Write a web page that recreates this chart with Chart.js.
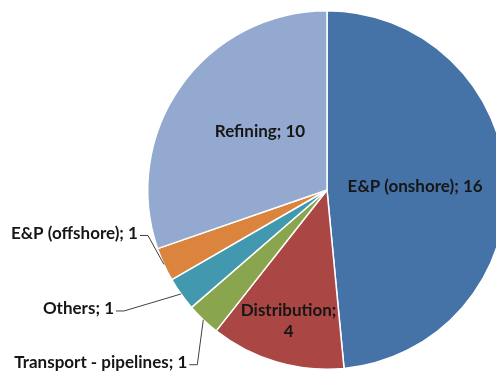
<!DOCTYPE html>
<html>
<head>
<meta charset="utf-8">
<script src="https://cdn.jsdelivr.net/npm/chart.js@4/dist/chart.umd.min.js"></script>
<style>
    html, body { margin: 0; padding: 0; background: #fff; overflow: hidden; }
    #wrap { position: absolute; left: 0; top: 0; width: 540px; height: 380px; }
</style>
</head>
<body>
<div id="wrap"><canvas id="pieChart" width="540" height="380"></canvas></div>
<script>
// Segments by count, clockwise from 12 o'clock
const segments = ['E&P (onshore)', 'Distribution', 'Transport - pipelines', 'Others', 'E&P (offshore)', 'Refining'];
const counts = [16, 4, 1, 1, 1, 10];
const sliceColors = ['#4572A7', '#AA4643', '#89A54E', '#4198AF', '#DB843D', '#93A9CF'];

// How each label is placed: inside at a fraction of the radius, or outside with a leader line
const labelPlacement = [
    { mode: 'in', frac: 0.52, dx: -5, dy: 1, lines: ['E&P (onshore); 16'] },
    { mode: 'in', frac: 0.76, dx: 0, dy: 0, lines: ['Distribution;', '4'] },
    { mode: 'out', ex: -6, ey: 45 },
    { mode: 'out', ex: -57, ey: 17 },
    { mode: 'out', ex: -16, ey: -29 },
    { mode: 'in', frac: 0.5, dx: 6, dy: -6, lines: ['Refining; 10'] }
];

const labelFont = 'bold 17px Lato, "DejaVu Sans", sans-serif';

const sliceLabels = {
    id: 'sliceLabels',
    afterDatasetsDraw(chart) {
        const ctx = chart.ctx;
        const meta = chart.getDatasetMeta(0);
        ctx.save();
        ctx.font = labelFont;
        ctx.fillStyle = '#161616';
        ctx.textBaseline = 'middle';
        meta.data.forEach((arc, i) => {
            const p = arc.getProps(['x', 'y', 'startAngle', 'endAngle', 'outerRadius'], true);
            const mid = (p.startAngle + p.endAngle) / 2;
            const cfg = labelPlacement[i];
            if (cfg.mode === 'in') {
                const cx = p.x + Math.cos(mid) * p.outerRadius * cfg.frac + cfg.dx;
                const cy = p.y + Math.sin(mid) * p.outerRadius * cfg.frac + cfg.dy;
                ctx.textAlign = 'center';
                const lh = 21;
                const top = cy - (cfg.lines.length - 1) * lh / 2;
                cfg.lines.forEach((ln, k) => ctx.fillText(ln, cx, top + k * lh));
            } else {
                const sx = p.x + Math.cos(mid) * p.outerRadius;
                const sy = p.y + Math.sin(mid) * p.outerRadius;
                const bx = sx + cfg.ex;
                const by = sy + cfg.ey;
                ctx.strokeStyle = '#404040';
                ctx.lineWidth = 1;
                ctx.beginPath();
                ctx.moveTo(sx, sy);
                ctx.lineTo(bx, by);
                ctx.lineTo(bx - 8, by);
                ctx.stroke();
                ctx.textAlign = 'right';
                ctx.fillText(segments[i] + '; ' + counts[i], bx - 10, by - 2);
            }
        });
        ctx.restore();
    }
};

new Chart(document.getElementById('pieChart'), {
    type: 'pie',
    data: {
        labels: segments,
        datasets: [{
            data: counts,
            backgroundColor: sliceColors,
            borderColor: '#ffffff',
            borderWidth: 1.5
        }]
    },
    options: {
        responsive: false,
        animation: false,
        layout: { padding: { left: 147, top: 10, right: 33, bottom: 10 } },
        plugins: {
            legend: { display: false },
            tooltip: { enabled: false }
        }
    },
    plugins: [sliceLabels]
});
</script>
</body>
</html>
